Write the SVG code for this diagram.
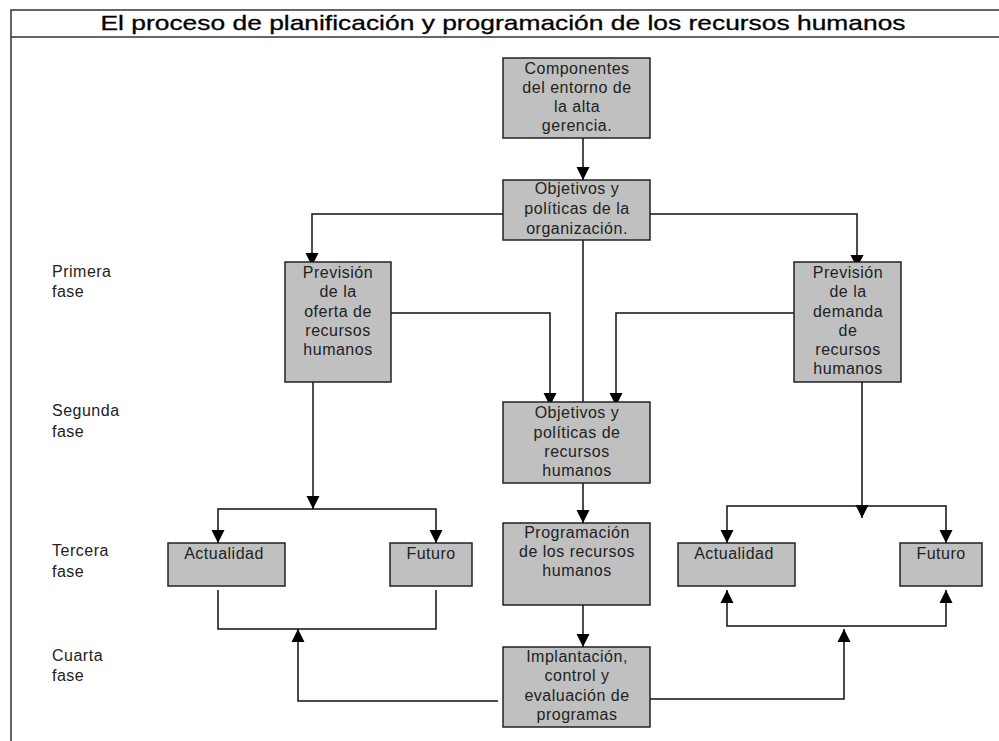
<svg xmlns="http://www.w3.org/2000/svg" width="999" height="741" viewBox="0 0 999 741">
  <style>
    .frame { stroke: #333; stroke-width: 1.5; fill: none; }
    .box rect { fill: #c0c0c0; stroke: #222; stroke-width: 1.5; }
    .box text, .phase { font-family: "Liberation Sans", Arial, sans-serif; font-size: 16px; letter-spacing: 0.5px; fill: #222; }
    .box text { text-anchor: middle; }
    .title { font-family: "Liberation Sans", Arial, sans-serif; font-size: 21px; fill: #000; text-anchor: middle; stroke: #000; stroke-width: 0.3; }
    #connectors path { stroke: #111; stroke-width: 1.5; fill: none; }
    #connectors path.arr { marker-end: url(#head); }
  </style>
  <defs>
    <marker id="head" markerUnits="userSpaceOnUse" markerWidth="14" markerHeight="14" viewBox="0 0 14 14" refX="13" refY="7" orient="auto">
      <path d="M0,0.5 L13,7 L0,13.5 Z" fill="#000"/>
    </marker>
  </defs>
  <rect width="999" height="741" fill="#fff"/>

  <!-- frame and title -->
  <path class="frame" d="M999,10 H11 V741 M11,37 H999"/>
  <text class="title" x="503" y="30" textLength="805" lengthAdjust="spacingAndGlyphs">El proceso de planificación y programación de los recursos humanos</text>

  <!-- phase labels -->
  <g id="phases">
    <text class="phase" x="52" y="277">Primera</text>
    <text class="phase" x="52" y="297">fase</text>
    <text class="phase" x="52" y="416">Segunda</text>
    <text class="phase" x="52" y="437">fase</text>
    <text class="phase" x="52" y="556">Tercera</text>
    <text class="phase" x="52" y="577">fase</text>
    <text class="phase" x="52" y="661">Cuarta</text>
    <text class="phase" x="52" y="681">fase</text>
  </g>

  <!-- connectors -->
  <g id="connectors">
    <path class="arr" d="M583,138 V180"/>
    <path class="arr" d="M503,214 H312 V266"/>
    <path class="arr" d="M650,214 H857 V268"/>
    <path class="arr" d="M583,240 V416"/>
    <path class="arr" d="M391,313 H550 V406"/>
    <path class="arr" d="M794,313 H616 V406"/>
    <path class="arr" d="M313,382 V509"/>
    <path class="arr" d="M313,509 H218 V543"/>
    <path class="arr" d="M313,509 H436 V543"/>
    <path class="arr" d="M862,382 V518"/>
    <path class="arr" d="M862,506 H727 V543"/>
    <path class="arr" d="M862,506 H946 V543"/>
    <path class="arr" d="M583,483 V523"/>
    <path class="arr" d="M583,605 V647"/>
    <path d="M218,590 V629 H436 V590"/>
    <path class="arr" d="M498,701 H298 V629"/>
    <path class="arr" d="M836,626 H727 V590"/>
    <path class="arr" d="M836,626 H946 V590"/>
    <path class="arr" d="M650,699 H844 V629"/>
  </g>

  <!-- nodes -->
  <g id="componentes" class="box">
    <rect x="503" y="58" width="147" height="80"/>
    <text x="577" y="74">Componentes</text>
    <text x="577" y="93">del entorno de</text>
    <text x="577" y="112">la alta</text>
    <text x="577" y="131">gerencia.</text>
  </g>
  <g id="objetivos-org" class="box">
    <rect x="503" y="180" width="147" height="60"/>
    <text x="577" y="194">Objetivos y</text>
    <text x="577" y="214">políticas de la</text>
    <text x="577" y="234">organización.</text>
  </g>
  <g id="prevision-oferta" class="box">
    <rect x="285" y="262" width="106" height="120"/>
    <text x="338" y="278">Previsión</text>
    <text x="338" y="297">de la</text>
    <text x="338" y="317">oferta de</text>
    <text x="338" y="336">recursos</text>
    <text x="338" y="355">humanos</text>
  </g>
  <g id="prevision-demanda" class="box">
    <rect x="794" y="262" width="107" height="120"/>
    <text x="848" y="278">Previsión</text>
    <text x="848" y="297">de la</text>
    <text x="848" y="317">demanda</text>
    <text x="848" y="336">de</text>
    <text x="848" y="355">recursos</text>
    <text x="848" y="374">humanos</text>
  </g>
  <g id="objetivos-rh" class="box">
    <rect x="503" y="402" width="147" height="81"/>
    <text x="577" y="418">Objetivos y</text>
    <text x="577" y="438">políticas de</text>
    <text x="577" y="457">recursos</text>
    <text x="577" y="476">humanos</text>
  </g>
  <g id="programacion" class="box">
    <rect x="503" y="523" width="147" height="82"/>
    <text x="577" y="538">Programación</text>
    <text x="577" y="557">de los recursos</text>
    <text x="577" y="576">humanos</text>
  </g>
  <g id="implantacion" class="box">
    <rect x="503" y="647" width="147" height="80"/>
    <text x="577" y="662">Implantación,</text>
    <text x="577" y="681">control y</text>
    <text x="577" y="701">evaluación de</text>
    <text x="577" y="720">programas</text>
  </g>
  <g id="actualidad-oferta" class="box">
    <rect x="168" y="543" width="117" height="43"/>
    <text x="224" y="559">Actualidad</text>
  </g>
  <g id="futuro-oferta" class="box">
    <rect x="390" y="543" width="82" height="43"/>
    <text x="431" y="559">Futuro</text>
  </g>
  <g id="actualidad-demanda" class="box">
    <rect x="678" y="543" width="117" height="43"/>
    <text x="734" y="559">Actualidad</text>
  </g>
  <g id="futuro-demanda" class="box">
    <rect x="900" y="543" width="82" height="43"/>
    <text x="941" y="559">Futuro</text>
  </g>
</svg>
